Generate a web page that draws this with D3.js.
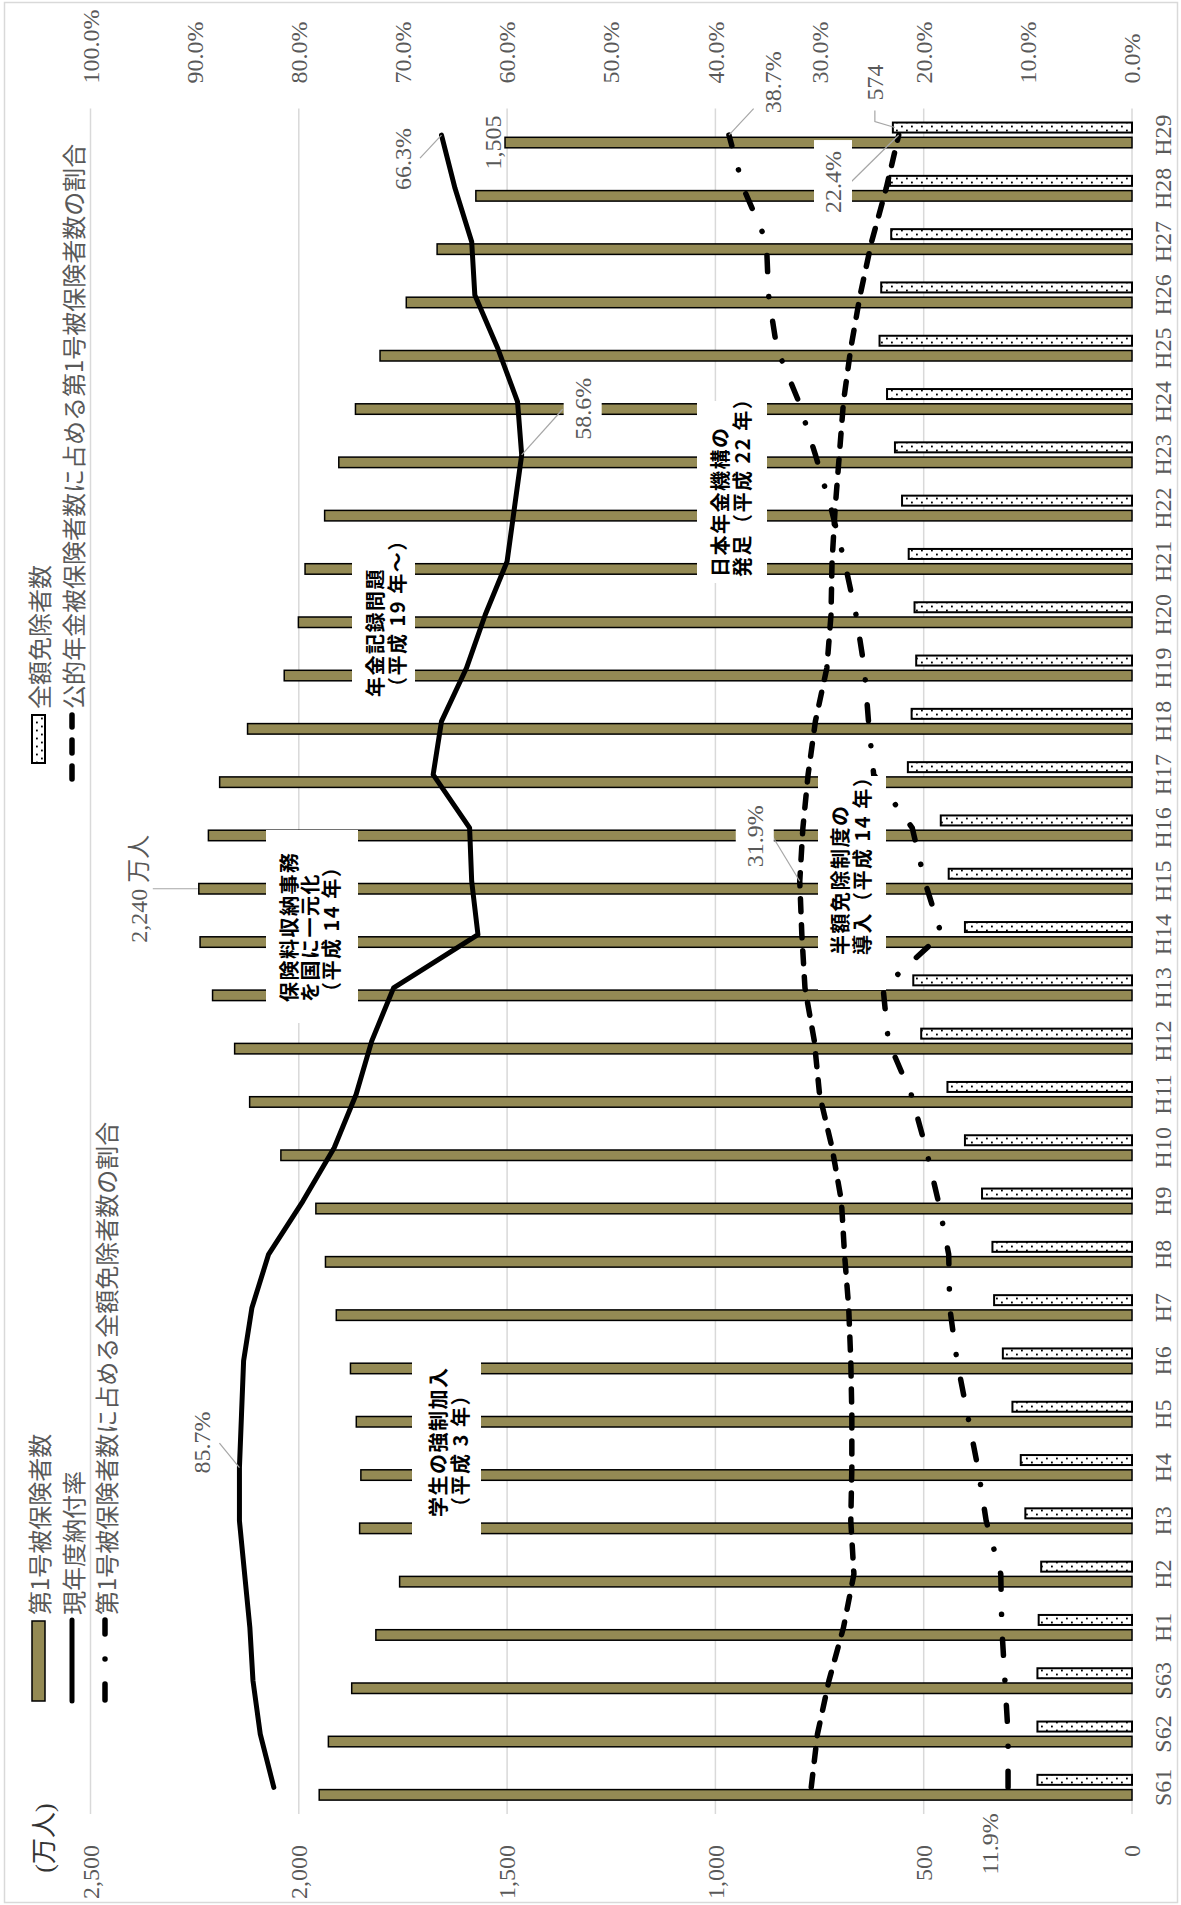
<!DOCTYPE html>
<html><head><meta charset="utf-8">
<script src="https://cdn.jsdelivr.net/npm/d3@7"></script>
<style>body{margin:0;background:#fff}svg{display:block}</style>
</head><body>
<svg id="chart" width="1181" height="1905"></svg>
<script>
// ---- data ----
const categories = ["S61","S62","S63","H1","H2","H3","H4","H5","H6","H7","H8","H9","H10","H11","H12","H13","H14","H15","H16","H17","H18","H19","H20","H21","H22","H23","H24","H25","H26","H27","H28","H29"];
const insured = [1951,1929,1873,1815,1758,1854,1851,1862,1876,1910,1936,1959,2043,2118,2154,2207,2237,2240,2217,2190,2123,2035,2001,1985,1938,1904,1864,1805,1742,1668,1575,1505];
const exempt = [227,227,227,224,218,256,267,287,310,331,335,360,401,443,506,525,401,440,459,538,529,518,522,536,552,569,588,606,602,578,581,574];
const paymentRate = [82.4,83.7,84.4,84.7,85.2,85.7,85.7,85.5,85.3,84.5,82.9,79.6,76.6,74.5,73.0,70.9,62.8,63.4,63.6,67.1,66.3,63.9,62.1,60.0,59.3,58.6,59.0,60.9,63.1,63.4,65.0,66.3];
const exemptShare = [11.9,11.9,12.2,12.5,12.6,14.0,14.8,15.8,16.8,17.5,17.6,18.6,19.8,21.2,23.4,23.9,18.3,19.9,21.1,24.8,25.3,25.7,26.5,27.6,28.9,30.4,32.0,34.1,34.9,35.1,37.3,38.7];
const firstShare = [30.8,30.2,29.1,27.7,26.7,27.0,26.9,26.9,27.0,27.2,27.6,27.9,28.8,30.0,30.5,31.4,31.7,31.9,31.6,31.1,30.4,29.3,28.9,28.8,28.5,28.1,27.7,27.0,26.1,25.0,23.6,22.4];
const valueTicks = [0,500,1000,1500,2000,2500];
const gridTicks = [0,500,1000,1500,2000,2500];
const percentTicks = [0,10,20,30,40,50,60,70,80,90,100];
const seriesNames = ["第1号被保険者数","現年度納付率","第1号被保険者数に占める全額免除者数の割合","全額免除者数","公的年金被保険者数に占める第1号被保険者数の割合"];
const unitLabel = "(万人)";

// ---- setup ----
const SERIF = "'Liberation Serif','Noto Sans CJK JP',serif";
const SANS = "'Noto Sans CJK JP',sans-serif";
const GRAY = "#595959";
const OLIVE = "#948A54";

const svg = d3.select("#chart");
svg.append("rect").attr("width",1181).attr("height",1905).attr("fill","#fff");
const defs = svg.append("defs");
const pat = defs.append("pattern").attr("id","dots").attr("patternUnits","userSpaceOnUse").attr("width",8).attr("height",10);
pat.append("rect").attr("width",8).attr("height",10).attr("fill","#fff");
pat.append("rect").attr("x",1.6).attr("y",1).attr("width",1.8).attr("height",1.8).attr("fill","#000");
pat.append("rect").attr("x",5.6).attr("y",6).attr("width",1.8).attr("height",1.8).attr("fill","#000");

// chart border
svg.append("rect").attr("x",4.5).attr("y",2.5).attr("width",1173).attr("height",1900)
  .attr("fill","none").attr("stroke","#d9d9d9").attr("stroke-width",1.5);

// inner (landscape) coordinate system, rotated -90deg
const g = svg.append("g").attr("transform","translate(0,1905) rotate(-90)");

const x = d3.scaleBand().domain(categories).range([91,1796.6]).paddingInner(0).paddingOuter(0);
const y = d3.scaleLinear().domain([0,2500]).range([1132,90.5]);
const y2 = d3.scaleLinear().domain([0,100]).range([1132,90.5]);
const cx = c => x(c) + x.bandwidth()/2;

// gridlines
g.append("g").selectAll("line").data(gridTicks).join("line")
  .attr("x1",91).attr("x2",1796.6).attr("y1",d=>y(d)).attr("y2",d=>y(d))
  .attr("stroke","#d9d9d9").attr("stroke-width",1.5);

// axes
const axL = g.append("g").attr("transform","translate(91,0)")
  .call(d3.axisLeft(y).tickValues(valueTicks).tickSize(0).tickPadding(31).tickFormat(d3.format(",")));
axL.select(".domain").remove();
axL.selectAll("text").attr("font-family",SERIF).attr("font-size",24).attr("fill",GRAY).attr("dy","0.32em");

const axR = g.append("g").attr("transform","translate(1796.6,0)")
  .call(d3.axisRight(y2).tickValues(percentTicks).tickSize(0).tickPadding(25).tickFormat(d=>d.toFixed(1)+"%"));
axR.select(".domain").remove();
axR.selectAll("text").attr("font-family",SERIF).attr("font-size",24).attr("fill",GRAY).attr("dy","0.32em");

const axB = g.append("g").attr("transform","translate(0,1132)")
  .call(d3.axisBottom(x).tickSize(0).tickPadding(31));
axB.select(".domain").remove();
axB.selectAll("text").attr("font-family",SERIF).attr("font-size",24).attr("fill",GRAY).attr("y",31).attr("dy","0.35em");

// unit label
g.append("text").attr("x",67).attr("y",44).attr("text-anchor","middle").attr("dominant-baseline","central")
  .attr("font-family",SERIF).attr("font-size",26).attr("fill","#333").text(unitLabel);

// bars
g.append("g").selectAll("rect").data(insured).join("rect")
  .attr("x",(d,i)=>cx(categories[i]) - 13.5 + 0.75).attr("width",10.5)
  .attr("y",d=>y(d)).attr("height",d=>y(0)-y(d))
  .attr("fill",OLIVE).attr("stroke","#000").attr("stroke-width",1.5);
g.append("g").selectAll("rect").data(exempt).join("rect")
  .attr("x",(d,i)=>cx(categories[i]) + 1.5 + 1).attr("width",10)
  .attr("y",d=>y(d)).attr("height",d=>y(0)-y(d))
  .attr("fill","url(#dots)").attr("stroke","#000").attr("stroke-width",2);

// lines
const lineGen = d3.line().x((d,i)=>cx(categories[i])).y(d=>y2(d));
g.append("path").datum(firstShare).attr("d",lineGen).attr("fill","none")
  .attr("stroke","#000").attr("stroke-width",5.5).attr("stroke-dasharray","13,13").attr("stroke-linecap","round");
g.append("path").datum(exemptShare).attr("d",lineGen).attr("fill","none")
  .attr("stroke","#000").attr("stroke-width",5.5).attr("stroke-dasharray","16,25,0.1,25").attr("stroke-linecap","round");
g.append("path").datum(paymentRate).attr("d",lineGen).attr("fill","none")
  .attr("stroke","#000").attr("stroke-width",5).attr("stroke-linejoin","round").attr("stroke-linecap","round");

// annotation boxes (layout in inner px)
const annotations = [
  {x0:365,x1:552,y0:412,y1:481,tx:388,lines:["学生の強制加入","（平成 3 年）"],ly:[437,459]},
  {x0:882,x1:1075,y0:266,y1:358,tx:903,lines:["保険料収納事務","を国に一元化","（平成 14 年）"],ly:[288,309,330]},
  {x0:1193,x1:1372,y0:352,y1:415,tx:1208,lines:["年金記録問題","（平成 19 年～）"],ly:[374,396]},
  {x0:915,x1:1129,y0:818,y1:886,tx:950,lines:["半額免除制度の","導入（平成 14 年）"],ly:[839,861]},
  {x0:1322,x1:1504,y0:697,y1:767,tx:1328,lines:["日本年金機構の","発足（平成 22 年）"],ly:[719,741]}
];
annotations.forEach(a=>{
  g.append("rect").attr("x",a.x0).attr("y",a.y0).attr("width",a.x1-a.x0).attr("height",a.y1-a.y0).attr("fill","#fff");
  a.lines.forEach((t,k)=>{
    g.append("text").attr("x",a.tx).attr("y",a.ly[k]).attr("dominant-baseline","central")
      .attr("font-family",SANS).attr("font-weight","bold").attr("font-size",20).attr("letter-spacing",1.5)
      .attr("fill","#000").text(t);
  });
});

// data labels
function label(px,py,dx,dy,text,box,leader){
  const lx = px+dx, ly = py+dy;
  if(leader){
    g.append("polyline").attr("points",leader.map(p=>[px+p[0],py+p[1]].join(",")).join(" "))
      .attr("fill","none").attr("stroke","#a6a6a6").attr("stroke-width",1.2);
  }
  if(box){
    g.append("rect").attr("x",lx-42).attr("y",ly-19).attr("width",84).attr("height",38).attr("fill","#fff");
  }
  g.append("text").attr("x",lx).attr("y",ly).attr("text-anchor","middle").attr("dominant-baseline","central")
    .attr("font-family",SERIF).attr("font-size",24).attr("fill",GRAY).text(text);
}
const iOf = c => categories.indexOf(c);
const fmt = d3.format(",");
{
  const c="H15", v=insured[iOf(c)], px=cx(c)-7.5, py=y(v);
  label(px,py,0,-60,fmt(v)+" 万人",false,[[0,-46],[0,-1]]);
}
{ const c="H29", v=insured[iOf(c)]; label(cx(c)-7.5,y(v),0,-12,fmt(v),false,null); }
{ const c="H29", v=paymentRate[iOf(c)]; label(cx(c),y2(v),-24,-38.5,v.toFixed(1)+"%",false,[[-23,-21.5],[0,0]]); }
{ const c="H23", v=paymentRate[iOf(c)]; label(cx(c),y2(v),46,61,v.toFixed(1)+"%",true,[[45.6,41],[0,0]]); }
{ const c="H4", v=paymentRate[iOf(c)]; label(cx(c),y2(v),25,-37,v.toFixed(1)+"%",false,[[24.4,-20],[0,0]]); }
{ const c="H29", v=firstShare[iOf(c)]; label(cx(c),y2(v),-47,-65.7,v.toFixed(1)+"%",true,[[-47,-47.7],[0,0]]); }
{ const c="H15", v=firstShare[iOf(c)]; label(cx(c),y2(v),45,-45,v.toFixed(1)+"%",true,[[44.5,-27],[0,0]]); }
{ const c="H29", v=exemptShare[iOf(c)]; label(cx(c),y2(v),52.7,44,v.toFixed(1)+"%",false,[[26.4,24.7],[0,0]]); }
{ const c="H29", v=exempt[iOf(c)]; label(cx(c)+13.5,y(v),39,-18,fmt(v),false,[[11,-18],[0,-18],[-6,2]]); }
{ const c="S61", v=exemptShare[iOf(c)]; label(cx(c),y2(v),-56.5,-18,v.toFixed(1)+"%",false,null); }

// legend
const leg = g.append("g");
function legText(xp,yp,t){
  leg.append("text").attr("x",xp).attr("y",yp).attr("dominant-baseline","central")
    .attr("font-family",SANS).attr("font-size",24).attr("fill",GRAY).text(t);
}
leg.append("rect").attr("x",204).attr("y",32).attr("width",80).attr("height",13)
  .attr("fill",OLIVE).attr("stroke","#000").attr("stroke-width",1.5);
legText(290,38,seriesNames[0]);
leg.append("line").attr("x1",204).attr("x2",285).attr("y1",72).attr("y2",72)
  .attr("stroke","#000").attr("stroke-width",5).attr("stroke-linecap","round");
legText(290,72,seriesNames[1]);
leg.append("line").attr("x1",205).attr("x2",285).attr("y1",105).attr("y2",105)
  .attr("stroke","#000").attr("stroke-width",5.5).attr("stroke-dasharray","16,25,0.1,25").attr("stroke-linecap","round");
legText(290,105,seriesNames[2]);
leg.append("rect").attr("x",1142).attr("y",32).attr("width",48).attr("height",13)
  .attr("fill","url(#dots)").attr("stroke","#000").attr("stroke-width",2);
legText(1196,38,seriesNames[3]);
leg.append("line").attr("x1",1126).attr("x2",1190).attr("y1",72).attr("y2",72)
  .attr("stroke","#000").attr("stroke-width",5.5).attr("stroke-dasharray","13,13").attr("stroke-linecap","round");
legText(1196,72,seriesNames[4]);
</script>
</body></html>
